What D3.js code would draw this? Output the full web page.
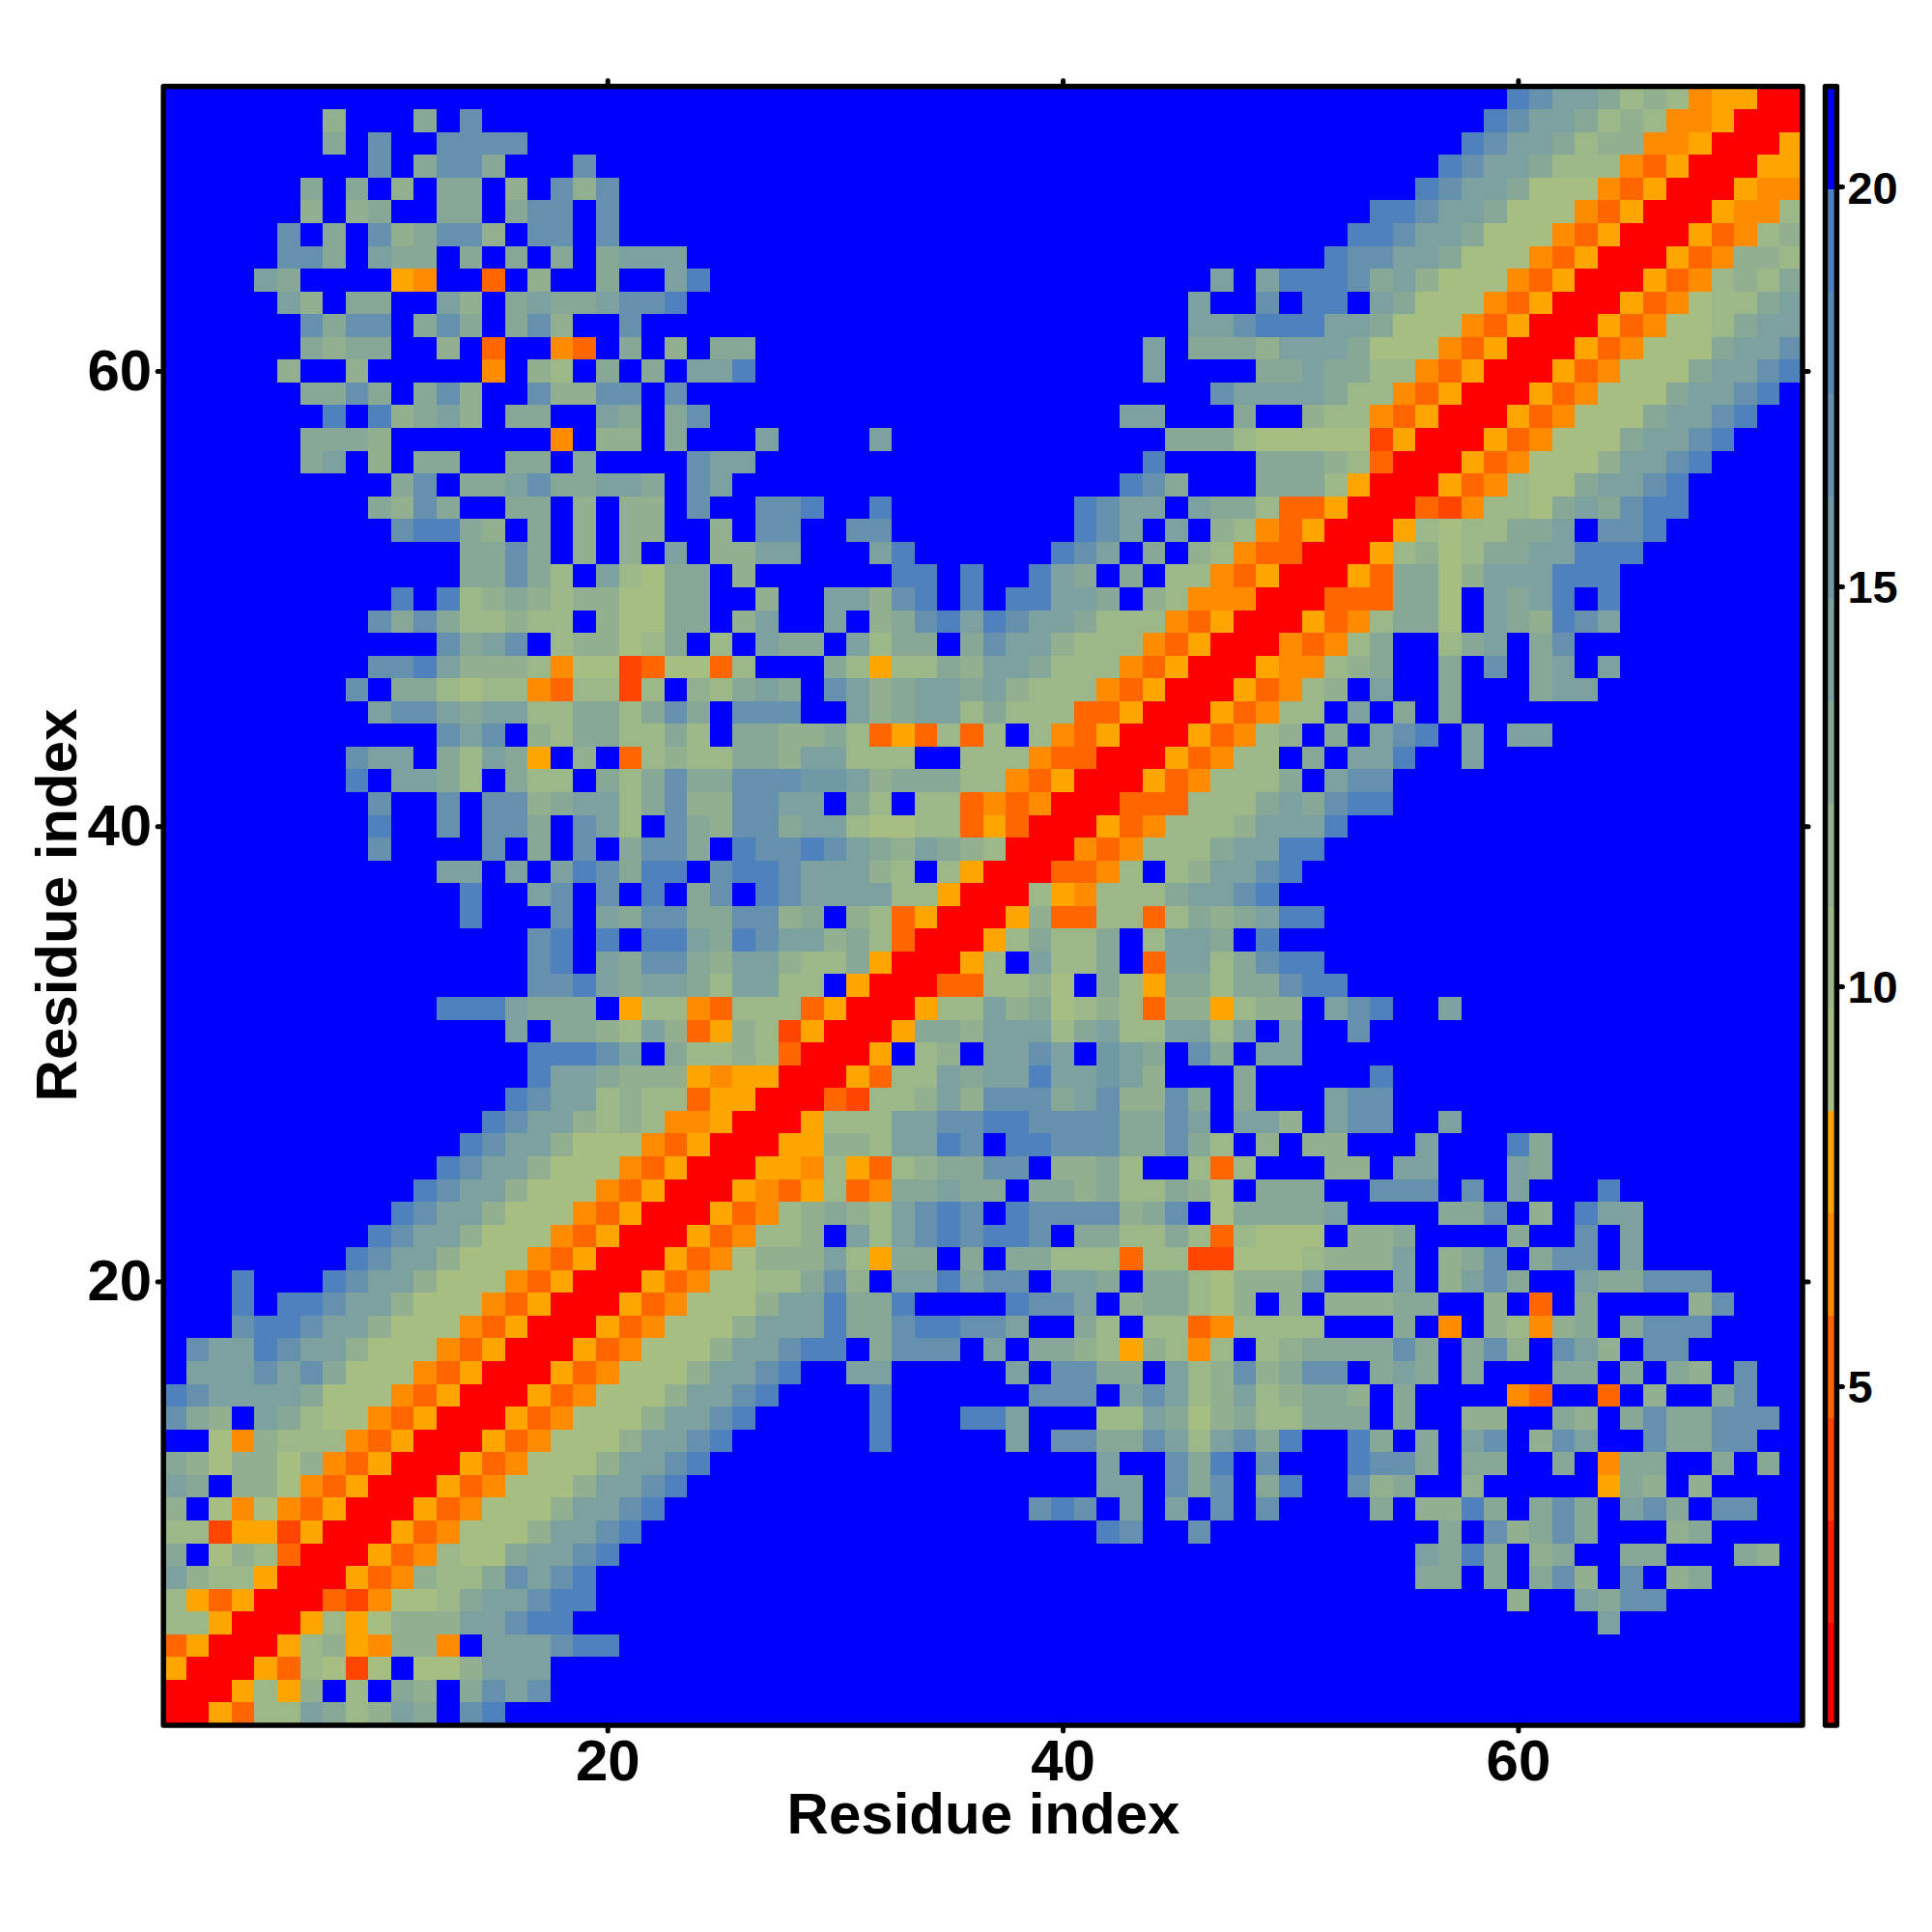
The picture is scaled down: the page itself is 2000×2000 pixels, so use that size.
<!DOCTYPE html>
<html><head><meta charset="utf-8">
<style>html,body{margin:0;background:#fff}text{font-family:"Liberation Sans",Arial,sans-serif;font-weight:700;fill:#000}</style>
<script src="https://d3js.org/d3.v7.min.js"></script></head><body>
<svg id="c" width="2000" height="2000"></svg>
<script>
// Distance map, lower triangle. First string is residue 72, last is residue 1; each string lists columns 1..r.
const D = "..........";
const distanceRows = [
`${D} ${D} ${D} ${D} ${D} .........g feedbcb455 00`,
`.......c.. .d.f...... ${D} ${D} ${D} ........gf eedbcb4450 0`,
`.......d.f ..ffff.... ${D} ${D} ${D} .......gfe edbcc44500`,
`.........f .dffd...f. ${D} ${D} ${D} ......gfee dbbb43500`,
`......d.d. c.dd.c.fcf ${D} ${D} ${D} .....gfeed aaa43500`,
`......c.cd ..dd.dff.f ${D} ${D} ${D} ...ggfeeda aa43500`,
`.....f.d.f cdffc.ff.f ${D} ${D} ${D} ..ggfeedaa a43500`,
`.....ffd.e dd.d.d.d.d eee....... ${D} ${D} .gffeedaaa 43500`,
`....ed.... 54..3.c..d ..eg...... ${D} ......e.eg ggfdecaaa4 3500`,
`.....ec.dd ..ec.dedde ffg....... ${D} .....e..f. gg.edaaa43 500`,
`......fdff .dfd.dfc.. f......... ${D} .....eefgg geedaaa435 00`,
`......dcdd ..c.3..43. d.c.dd.... ${D} ...e.dddce eedaaa4350 0`,
`.....c..c. ....4.cb.d .d.eeg.... ${D} ...e....dd eddbb43500`,
`......ddfd .dfc..fccf f.f....... ${D} ......feee edbb43500`,
`.......g.g cdec.dd..e d.df...... ${D} ..ee...d.. cbb43500`,
`......dddc .......4.c c.d...e... .e........ ....dddbaa aaa2500`,
`......de.c .dd..dd.d. ...fee.... ${D} ...g....dd dcb300`,
`${D} df.ddefdde ed.fe..... ${D} ..gfd...dd db500`,
`.........d cfd..dd.c. cc.f..ffg. .g........ gfee.eddb3 3500`,
`${D} fggdc.d.c. cc..c.ff.. ff........ gfe.e.cb43 500`,
`${D} ...ddfd.c. c.e.ccee.. .eg......g fe.d.cb433 00`,
`${D} ...ddfdb.e badd.c.... ..gg.g..ge d.d.bb4350 0`,
`${D} g.gbcdcbcc aadd..c..e ecfg.g.gge ed.cb44400`,
`.........f dfdbbcbb.c aadd.ce..e .cdfgegfee dbbb43500`,
`${D} ..fdef.bcc abd.b.edd. ebdd.dfeec bbb43500`,
`.........f fgecccb4aa 23aa3b...d b5bbdceedb bb43500`,
`........f. ddbabb43bb 2b.cbded.f ecdeedecbb b43500`,
`.........e ffedeebbdd bdfd.fff.. ecdeebdbbb 33500`,
`${D} ..fef.cbdd bbdb.ddccd b353b3b.b4 3500`,
`........fe e.dbed5.c. 3bcbbddcee bbb..bbb43 300`,
`........g. eedb.dbb.d bdfddfffhh ecdddbb435 00`,
`.........f ..f.ffcdee bdfccffee. db.bb34340 0`,
`.........g ..f.ffd.fe b.fdcffdee baabb35300`,
`.........f ....f.d.f. dffd.gffgf edcedcb00`,
`${D} ..ee.e.egf dgg.fggfee ecb.b500`,
`${D} ...g..ef.f .g.df.gfee eebb500`,
`${D} ...g...f.e dffddffcd. cb3500`,
`${D} ......fg.g .ggedgfeec db300`,
`${D} ......fg.e dffdceecbb d500`,
`${D} ......ffge deedbeebb. 500`,
`${D} ..gggeddd. 5bb43bbb35 00`,
`${D} .....e.ddc bec35cb250 0`,
`${D} ......gggf e.dbbcb300`,
`${D} ......geed ccc545500`,
`${D} .....gfeeb cbb35500`,
`${D} ....gfeecb cb44500`,
`${D} ...gfeecaa a43500`,
`${D} ..gfeecaaa 43500`,
`${D} .gfeecaaa4 3500`,
`${D} gfeecaaa43 500`,
`.........g feecaaa435 00`,
`........gf eecaaa4350 0`,
`...g...gfe ecaaa43500`,
`...g.ggfee caaa43500`,
`...fggfeec aaa43500`,
`.feegfeeca aa43500`,
`.eeefefdaa a43500`,
`gfeeeedaaa 43500`,
`fdc.edbaa4 3500`,
`..a4cbbb43 500`,
`dcaccac435 00`,
`ed.cca4350 0`,
`c.a4a43500`,
`bb2552500`,
`d.acb300`,
`ecbb500`,
`b53500`,
`bb500`,
`3500`,
`500`,
`00`,
`0`
];
// Distance (in angstrom) that each letter of the rows stands for
const letterValues = {"0":1.4,"1":2.7,"2":3.95,"3":5.2,"4":6.5,"5":7.8,a:9.1,b:10.3,c:11.6,d:12.9,e:14.2,h:15.5,f:16.8,g:19.3,".":20.6};
const paletteColors = ["#FF0000","#FF2000","#FF4500","#FF6600","#FF8C00","#FFA500",
  "#A6BE82","#9DB888","#92B08F","#87A897","#7CA19E","#7099A6","#6591AE","#5A89B5","#4F81BD","#0000FF"];
const axisTicks = [20,40,60];
const barTicks = [5,10,15,20];
const nResidues = 72;
const barDomain = [0.76,21.25];
const axisTitle = "Residue index";

const svg = d3.select("#c");
const L=169.2,R=1866,T=89.6,B=1786;
const x = d3.scaleLinear().domain([0.5,nResidues+0.5]).range([L,R]);
const y = d3.scaleLinear().domain([0.5,nResidues+0.5]).range([B,T]);
const color = d3.scaleQuantize().domain(barDomain).range(paletteColors);

const cells=[];
distanceRows.forEach((s,i)=>{
  const r=nResidues-i;
  Array.from(s.replace(/ /g,"")).forEach((ch,k)=>{
    const c=k+1, v=letterValues[ch];
    cells.push({c,r,v});
    if(c!==r) cells.push({c:r,r:c,v});
  });
});
svg.append("rect").attr("x",L).attr("y",T).attr("width",R-L).attr("height",B-T).attr("fill","#0000FF");
svg.append("g").attr("shape-rendering","crispEdges").selectAll("rect").data(cells).join("rect")
  .attr("x",d=>x(d.c-0.5)).attr("y",d=>y(d.r+0.5))
  .attr("width",d=>x(d.c+0.5)-x(d.c-0.5)).attr("height",d=>y(d.r-0.5)-y(d.r+0.5))
  .attr("fill",d=>color(d.v));

function style(g,size){
  g.select(".domain").remove();
  g.selectAll(".tick line").attr("stroke","#000").attr("stroke-width",5).attr("stroke-linecap","round");
  g.selectAll("text").attr("font-size",size);
}
const ax=(a)=>a.tickValues(axisTicks).tickSizeOuter(0).tickSize(6);
svg.append("g").attr("transform",`translate(0,${B})`).call(ax(d3.axisBottom(x)).tickPadding(8)).call(style,60);
svg.append("g").attr("transform",`translate(0,${T})`).call(ax(d3.axisTop(x)).tickFormat("")).call(style,60);
svg.append("g").attr("transform",`translate(${L},0)`).call(ax(d3.axisLeft(y)).tickPadding(6)).call(style,60);
svg.append("g").attr("transform",`translate(${R},0)`).call(ax(d3.axisRight(y)).tickFormat("")).call(style,60);
svg.append("rect").attr("x",L).attr("y",T).attr("width",R-L).attr("height",B-T)
  .attr("fill","none").attr("stroke","#000").attr("stroke-width",5.5).attr("stroke-linejoin","round");

svg.append("text").attr("x",1018).attr("y",1898).attr("text-anchor","middle").attr("font-size",60).text(axisTitle);
svg.append("text").attr("transform","translate(79,937) rotate(-90)").attr("text-anchor","middle").attr("font-size",60).text(axisTitle);

// colour bar
const bL=1889.5,bR=1901.4;
const by=d3.scaleLinear().domain(barDomain).range([B,T]);
const step=(barDomain[1]-barDomain[0])/paletteColors.length;
svg.append("g").attr("shape-rendering","crispEdges").selectAll("rect").data(paletteColors).join("rect")
  .attr("x",bL).attr("width",bR-bL)
  .attr("y",(d,i)=>by(barDomain[0]+(i+1)*step)).attr("height",(d,i)=>by(barDomain[0]+i*step)-by(barDomain[0]+(i+1)*step))
  .attr("fill",d=>d);
svg.append("g").attr("transform",`translate(${bR},0)`)
  .call(d3.axisRight(by).tickValues(barTicks).tickSizeOuter(0).tickSize(6).tickPadding(5)).call(style,47)
  .selectAll("text").attr("dy","0.36em");
svg.append("rect").attr("x",bL).attr("y",T).attr("width",bR-bL).attr("height",B-T)
  .attr("fill","none").attr("stroke","#000").attr("stroke-width",5.5).attr("stroke-linejoin","round");
</script></body></html>
